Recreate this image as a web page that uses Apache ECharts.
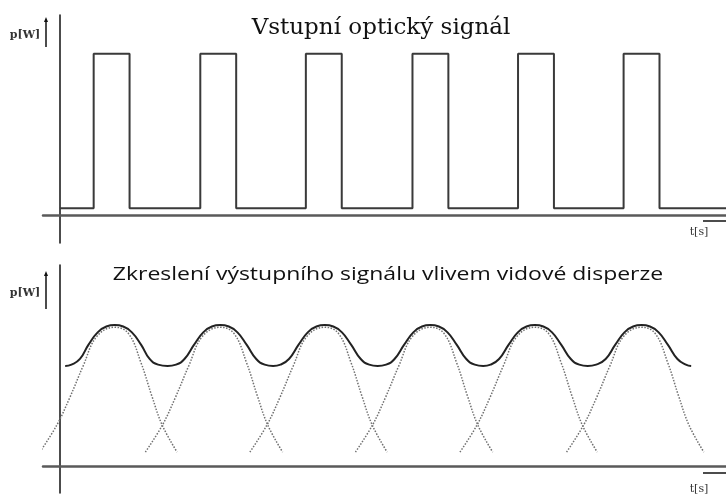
<!DOCTYPE html>
<html>
<head>
<meta charset="utf-8">
<script src="https://cdn.jsdelivr.net/npm/echarts@6/dist/echarts.min.js"></script>
<style>
html,body{margin:0;padding:0;background:#fff;}
#main{width:726px;height:495px;}
</style>
</head>
<body>
<div id="main"></div>
<script>
// vstupni signal - obdelnikove impulsy (t v periodach)
var pulseStart=[0.32,1.33,2.33,3.34,4.34,5.34];
var pulseWidth=0.34;
var lowLevel=0.04, highLevel=1;
var tEnd=6.31;

// vystupni signal - obalka (t, p)
var outT=[0.05,0.11,0.19,0.27,0.36,0.44,0.52,0.60,0.68,0.77,0.85,0.93,1.02,
          1.10,1.18,1.27,1.36,1.44,1.52,1.60,1.68,1.77,1.86,1.94,2.02,
          2.09,2.17,2.26,2.35,2.43,2.51,2.59,2.67,2.76,2.85,2.93,3.01,
          3.09,3.17,3.26,3.35,3.43,3.51,3.59,3.67,3.76,3.85,3.93,4.01,
          4.08,4.16,4.25,4.34,4.42,4.50,4.58,4.66,4.75,4.84,4.92,5.00,
          5.08,5.17,5.26,5.35,5.43,5.51,5.59,5.67,5.76,5.85,5.93,5.98];
var outP=[0.71,0.72,0.76,0.86,0.95,0.99,1.0,0.99,0.95,0.86,0.76,0.72,0.71,
          0.72,0.76,0.86,0.95,0.99,1.0,0.99,0.95,0.86,0.76,0.72,0.71,
          0.72,0.76,0.86,0.95,0.99,1.0,0.99,0.95,0.86,0.76,0.72,0.71,
          0.72,0.76,0.86,0.95,0.99,1.0,0.99,0.95,0.86,0.76,0.72,0.71,
          0.72,0.76,0.86,0.95,0.99,1.0,0.99,0.95,0.86,0.76,0.72,0.71,
          0.72,0.76,0.86,0.95,0.99,1.0,0.99,0.95,0.86,0.76,0.72,0.71];

// jednotlive rozsirene impulsy (teckovane)
var peakT=[0.52,1.52,2.51,3.51,4.50,5.51];
var shapeDt=[-0.71,-0.55,-0.43,-0.30,-0.17,0,0.13,0.25,0.35,0.45,0.59];
var shapeP=[0.10,0.29,0.48,0.71,0.92,0.985,0.94,0.73,0.50,0.29,0.10];

var titleTop='Vstupní optický signál';
var titleBottom='Zkreslení výstupního signálu vlivem vidové disperze';

var squareData=[[0,lowLevel]];
for(var i=0;i<pulseStart.length;i++){
    squareData.push([pulseStart[i],lowLevel]);
    squareData.push([pulseStart[i],highLevel]);
    squareData.push([pulseStart[i]+pulseWidth,highLevel]);
    squareData.push([pulseStart[i]+pulseWidth,lowLevel]);
}
squareData.push([tEnd,lowLevel]);

var outData=[];
for(var i=0;i<outT.length;i++){
    outData.push([outT[i],outP[i]]);
}

var series=[{
    type:'line',
    xAxisIndex:0,yAxisIndex:0,
    data:squareData,
    symbol:'none',
    lineStyle:{color:'#3a3a3a',width:2},
    silent:true,animation:false
}];
for(var k=0;k<peakT.length;k++){
    var d=[];
    for(var j=0;j<shapeDt.length;j++){
        d.push([peakT[k]+shapeDt[j],shapeP[j]]);
    }
    series.push({
        type:'line',
        xAxisIndex:1,yAxisIndex:1,
        data:d,
        symbol:'none',
        smooth:0.4,
        lineStyle:{color:'#707070',width:1.5,type:[1.5,1.5]},
        silent:true,animation:false
    });
}
series.push({
    type:'line',
    xAxisIndex:1,yAxisIndex:1,
    data:outData,
    symbol:'none',
    smooth:0.5,
    lineStyle:{color:'#222',width:2},
    silent:true,animation:false
});

function xAx(idx){
    return {
        type:'value',gridIndex:idx,min:-0.16,max:tEnd,
        axisLine:{show:true,onZero:true,lineStyle:{color:'#5a5a5a',width:2.5}},
        axisTick:{show:false},axisLabel:{show:false},splitLine:{show:false}
    };
}
function yAx(idx,min,max){
    return {
        type:'value',gridIndex:idx,min:min,max:max,
        axisLine:{show:true,onZero:true,lineStyle:{color:'#111',width:1.5}},
        axisTick:{show:false},axisLabel:{show:false},splitLine:{show:false}
    };
}

function arrowUp(x,y1,y2){
    return [
        {type:'line',shape:{x1:x,y1:y1,x2:x,y2:y2+3},style:{stroke:'#111',lineWidth:1.5}},
        {type:'polygon',shape:{points:[[x,y2],[x-2,y2+5],[x+2,y2+5]]},style:{fill:'#111'}}
    ];
}

var graphics=[
    {type:'text',x:381,y:28,style:{text:titleTop,font:'23px "DejaVu Serif"',fill:'#111',textAlign:'center',textVerticalAlign:'middle'}},
    {type:'text',x:388,y:275,scaleX:1.21,style:{text:titleBottom,font:'19px "Open Sans"',fill:'#111',textAlign:'center',textVerticalAlign:'middle'}},
    {type:'text',x:25,y:35,style:{text:'p[W]',font:'bold 11px "DejaVu Serif"',fill:'#333',textAlign:'center',textVerticalAlign:'middle'}},
    {type:'text',x:25,y:293,style:{text:'p[W]',font:'bold 11px "DejaVu Serif"',fill:'#333',textAlign:'center',textVerticalAlign:'middle'}},
    {type:'text',x:699,y:232,style:{text:'t[s]',font:'11px "DejaVu Serif"',fill:'#333',textAlign:'center',textVerticalAlign:'middle'}},
    {type:'text',x:699,y:489,style:{text:'t[s]',font:'11px "DejaVu Serif"',fill:'#333',textAlign:'center',textVerticalAlign:'middle'}},
    {type:'line',shape:{x1:703,y1:221,x2:726,y2:221},style:{stroke:'#111',lineWidth:1.5}},
    {type:'line',shape:{x1:703,y1:473,x2:726,y2:473},style:{stroke:'#111',lineWidth:1.5}}
].concat(arrowUp(46,47,17)).concat(arrowUp(46,309,271));

var myChart=echarts.init(document.getElementById('main')),option;
option={
    backgroundColor:'#fff',
    animation:false,
    grid:[
        {left:43,right:0,top:15,bottom:252},
        {left:43,right:0,top:265,bottom:2}
    ],
    xAxis:[xAx(0),xAx(1)],
    yAxis:[yAx(0,-0.175,1.24),yAx(1,-0.19,1.426)],
    series:series,
    graphic:graphics
};
myChart.setOption(option);
</script>
</body>
</html>
